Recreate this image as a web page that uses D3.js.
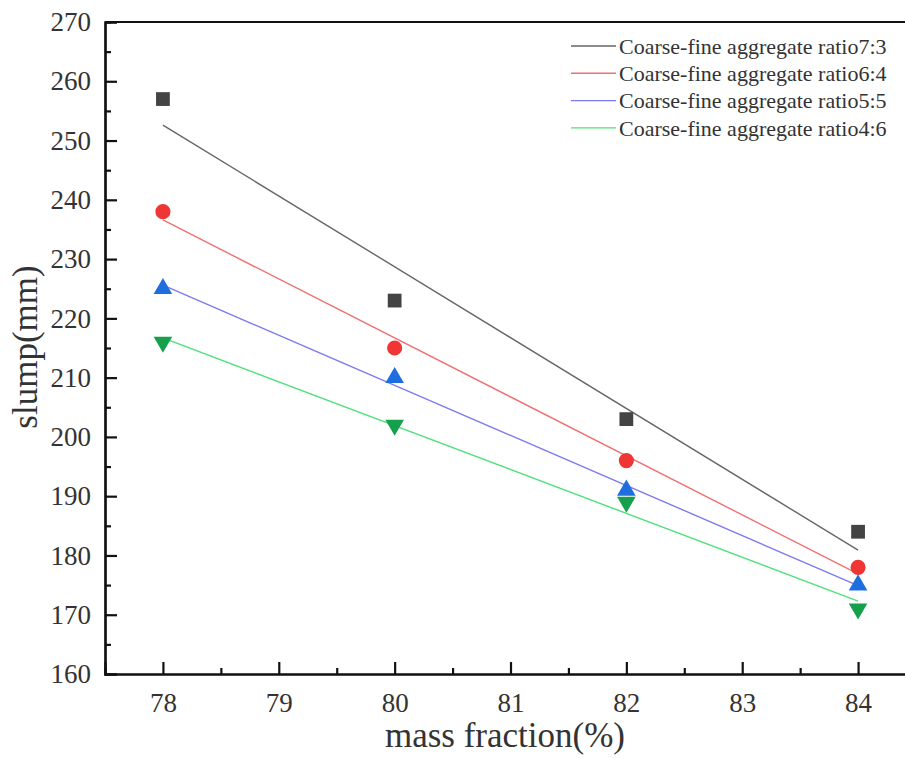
<!DOCTYPE html>
<html>
<head>
<meta charset="utf-8">
<script src="https://cdn.jsdelivr.net/npm/d3@7/dist/d3.min.js"></script>
<style>
  body { margin: 0; background: #fff; }
  svg { display: block; }
  text { font-family: "Liberation Serif", "DejaVu Serif", serif; fill: #333; }
</style>
</head>
<body>
<div id="chart"></div>
<script>
// mass fraction (%)
const massFraction = [78, 80, 82, 84];

// slump (mm) for each coarse-fine aggregate ratio
const ratio73 = [257, 223, 203, 184];
const ratio64 = [238, 215, 196, 178];
const ratio55 = [225, 210, 191, 175];
const ratio46 = [216, 202, 189, 171];

const seriesNames = [
  "Coarse-fine aggregate ratio7:3",
  "Coarse-fine aggregate ratio6:4",
  "Coarse-fine aggregate ratio5:5",
  "Coarse-fine aggregate ratio4:6",
];

const xTicks = [78, 79, 80, 81, 82, 83, 84];
const yTicks = [160, 170, 180, 190, 200, 210, 220, 230, 240, 250, 260, 270];

const series = [
  { name: seriesNames[0], values: ratio73, symbol: d3.symbolSquare, size: 190, fill: "#444444", line: "#666666" },
  { name: seriesNames[1], values: ratio64, symbol: d3.symbolCircle, size: 180, fill: "#f03535", line: "#f07070" },
  { name: seriesNames[2], values: ratio55, symbol: d3.symbolTriangle, size: 150, fill: "#1e6ee0", line: "#7b7bef" },
  { name: seriesNames[3], values: ratio46, symbol: d3.symbolTriangle, size: 150, fill: "#17a04c", line: "#4fe07a", flip: true },
];

const width = 905;
const height = 758;

const x = d3.scaleLinear().domain([77.5, 84.5]).range([105, 916]);
const y = d3.scaleLinear().domain([160, 270]).range([674, 22]);

const svg = d3
  .select("#chart")
  .append("svg")
  .attr("width", width)
  .attr("height", height);

// linear fit for each series (least squares)
function fit(values) {
  const mx = d3.mean(massFraction);
  const my = d3.mean(values);
  let num = 0, den = 0;
  massFraction.forEach((xv, i) => {
    num += (xv - mx) * (values[i] - my);
    den += (xv - mx) * (xv - mx);
  });
  const slope = num / den;
  return (xv) => my + slope * (xv - mx);
}

// fit lines
series.forEach((s) => {
  const f = fit(s.values);
  const ends = [massFraction[0], massFraction[massFraction.length - 1]];
  svg
    .append("path")
    .datum(ends)
    .attr("fill", "none")
    .attr("stroke", s.line)
    .attr("stroke-width", 1.4)
    .attr("d", d3.line().x((d) => x(d)).y((d) => y(f(d))));
});

// markers
series.forEach((s) => {
  svg
    .selectAll(null)
    .data(s.values)
    .enter()
    .append("path")
    .attr("d", d3.symbol().type(s.symbol).size(s.size))
    .attr("transform", (d, i) =>
      "translate(" + x(massFraction[i]) + "," + y(d) + ")" + (s.flip ? " rotate(180)" : "")
    )
    .attr("fill", s.fill);
});

// axes: ticks pointing inward
const xAxis = svg.append("g").attr("transform", "translate(0," + y(160) + ")");
xAxis.call(d3.axisBottom(x).tickValues(xTicks).tickSize(-12).tickPadding(19).tickFormat(d3.format("d")));

const xMinor = svg.append("g").attr("transform", "translate(0," + y(160) + ")");
xMinor.call(d3.axisBottom(x).tickValues(xTicks.slice(0, -1).map((d) => d + 0.5)).tickSize(-6).tickFormat(""));

const yAxis = svg.append("g").attr("transform", "translate(" + x(77.5) + ",0)");
yAxis.call(d3.axisLeft(y).tickValues(yTicks).tickSize(-12).tickPadding(14).tickFormat(d3.format("d")));

const yMinor = svg.append("g").attr("transform", "translate(" + x(77.5) + ",0)");
yMinor.call(d3.axisLeft(y).tickValues(yTicks.slice(0, -1).map((d) => d + 5)).tickSize(-6).tickFormat(""));

[xAxis, xMinor, yAxis, yMinor].forEach((g) => {
  g.select(".domain").attr("stroke", "#111").attr("stroke-width", 2.2);
  g.selectAll(".tick line").attr("stroke", "#111").attr("stroke-width", 2.2);
  g.selectAll(".tick text").style("font-size", "27px").attr("fill", "#333");
});

// top frame line
svg
  .append("line")
  .attr("x1", x(77.5))
  .attr("x2", width)
  .attr("y1", y(270))
  .attr("y2", y(270))
  .attr("stroke", "#111")
  .attr("stroke-width", 2.2);

// axis titles
svg
  .append("text")
  .attr("x", 505)
  .attr("y", 747)
  .attr("text-anchor", "middle")
  .style("font-size", "35px")
  .text("mass fraction(%)");

svg
  .append("text")
  .attr("transform", "rotate(-90)")
  .attr("x", -347)
  .attr("y", 37)
  .attr("text-anchor", "middle")
  .style("font-size", "35px")
  .text("slump(mm)");

// legend
const legend = svg.append("g").attr("transform", "translate(571,46)");
series.forEach((s, i) => {
  const row = legend.append("g").attr("transform", "translate(0," + i * 27.3 + ")");
  row
    .append("line")
    .attr("x1", 0)
    .attr("x2", 45)
    .attr("stroke", s.line)
    .attr("stroke-width", 1.4);
  row
    .append("text")
    .attr("x", 48)
    .attr("dy", "0.35em")
    .style("font-size", "22px")
    .text(s.name);
});
</script>
</body>
</html>
